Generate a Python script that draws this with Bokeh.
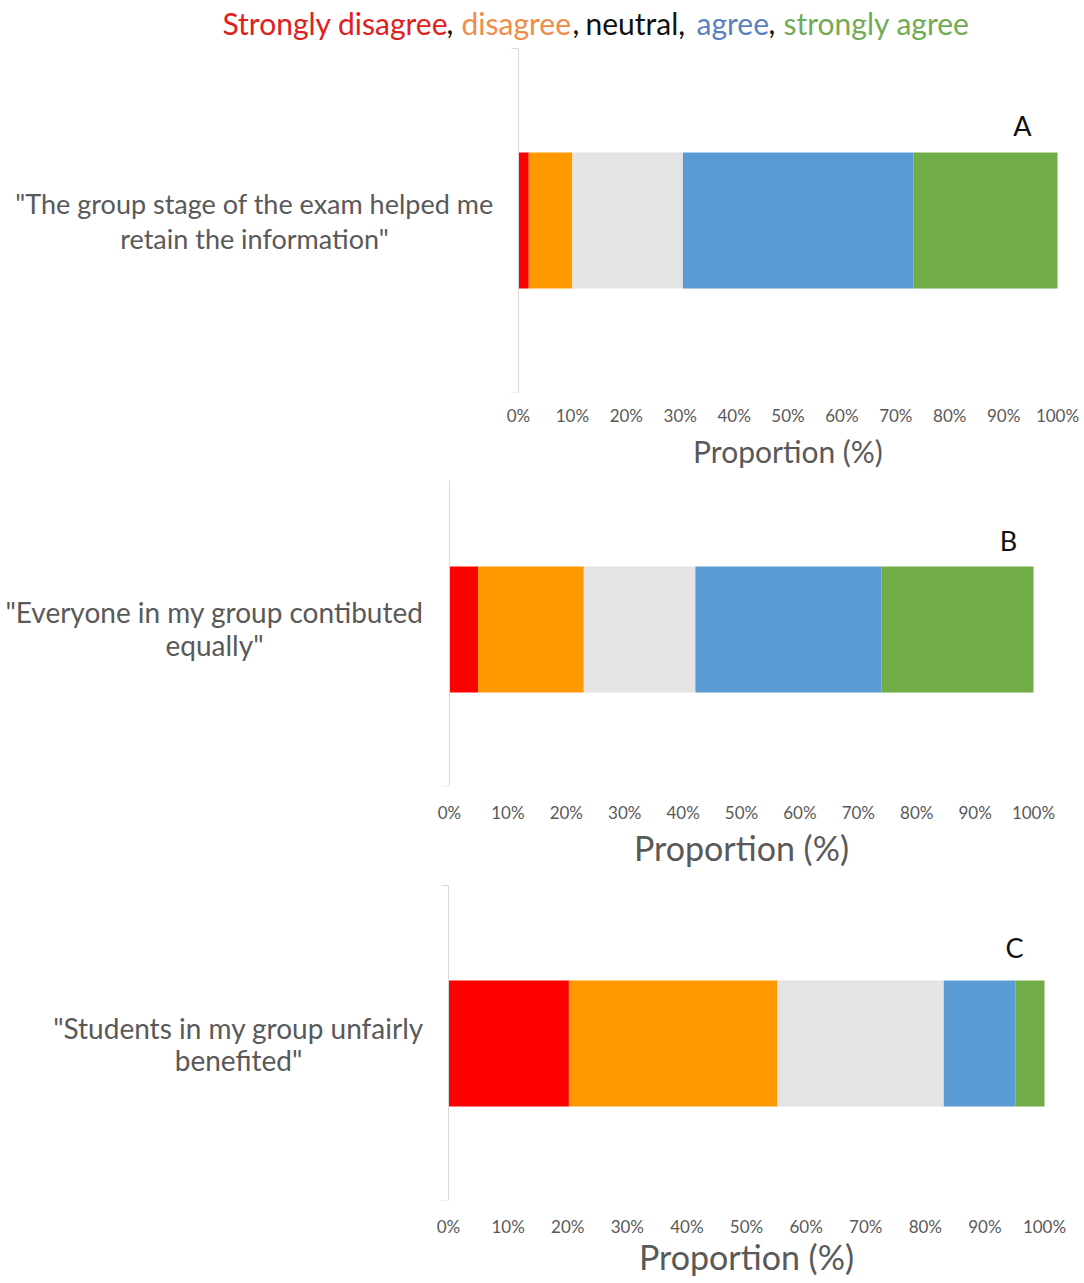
from bokeh.plotting import figure
from bokeh.models import Label, FixedTicker, PrintfTickFormatter, LinearAxis
from bokeh.layouts import column
from bokeh.embed import file_html
from bokeh.resources import INLINE

# Likert categories and their colours
responses = ["Strongly disagree", "disagree", "neutral", "agree", "strongly agree"]
bar_colors = ["#ff0000", "#ff9900", "#e4e4e4", "#5b9bd5", "#70ad47"]
header_colors = ["#e0201c", "#ef8c48", "#111111", "#5a80c0", "#72aa55"]

# Share of answers (%) per statement, in the order of `responses`
statement_a = ['"The group stage of the exam helped me', 'retain the information"']
shares_a = [1.9, 8.1, 20.5, 42.8, 26.7]

statement_b = ['"Everyone in my group contibuted', 'equally"']
shares_b = [4.9, 18.1, 19.1, 31.9, 26.0]

statement_c = ['"Students in my group unfairly', 'benefited"']
shares_c = [20.2, 35.0, 27.9, 12.0, 4.9]

x_ticks = [0, 10, 20, 30, 40, 50, 60, 70, 80, 90, 100]
x_title = "Proportion (%)"

FONT = "Lato"
GREY_TEXT = "#595959"
AXIS_GREY = "#d9d9d9"
PAGE_W = 1084


class Panel:
    """Page geometry of one panel (pixels): figure band and bar area."""

    def __init__(self, top, bottom, f_left, f_right, f_top, f_bottom):
        self.top, self.bottom = top, bottom
        self.f_left, self.f_right = f_left, f_right
        self.f_top, self.f_bottom = f_top, f_bottom
        self.sx = (f_right - f_left) / 100.0          # px per percent
        self.sy = float(f_bottom - f_top)             # px per y unit

    def x(self, px):
        return (px - self.f_left) / self.sx

    def y(self, py):
        return (self.f_bottom - py) / self.sy


def make_panel(g, shares, statement, letter, bar_px, text_cx, text_ys,
               text_size, letter_pos, tick_standoff, title_size, title_standoff,
               stubs):
    p = figure(
        width=PAGE_W, height=g.bottom - g.top,
        x_range=(g.x(0), g.x(PAGE_W)), y_range=(0, g.y(g.top)),
        output_backend="svg", toolbar_location=None,
        min_border_left=0, min_border_right=0, min_border_top=0,
        min_border_bottom=g.bottom - g.f_bottom,
    )
    p.outline_line_color = None
    p.xgrid.visible = False
    p.ygrid.visible = False
    p.yaxis.visible = False
    p.background_fill_color = "white"
    p.border_fill_color = "white"

    # stacked horizontal bar
    y_top, y_bot = g.y(bar_px[0]), g.y(bar_px[1])
    left = 0.0
    for share, color in zip(shares, bar_colors):
        p.hbar(y=(y_top + y_bot) / 2, left=left, right=left + share,
               height=y_top - y_bot, fill_color=color, line_color=None)
        left += share

    # vertical category axis line with short outer ticks
    p.segment(x0=[0], y0=[0], x1=[0], y1=[1], line_color=AXIS_GREY, line_width=1)
    stub = 7 / g.sx
    for yy in stubs:
        p.segment(x0=[-stub], y0=[yy], x1=[0], y1=[yy], line_color=AXIS_GREY, line_width=1)

    # percentage tick labels
    xa = p.xaxis[0]
    xa.ticker = FixedTicker(ticks=x_ticks)
    xa.formatter = PrintfTickFormatter(format="%d%%")
    xa.axis_line_color = None
    xa.major_tick_line_color = None
    xa.major_tick_out = 0
    xa.major_tick_in = 0
    xa.minor_tick_line_color = None
    xa.major_label_text_font = FONT
    xa.major_label_text_font_size = "17px"
    xa.major_label_text_color = GREY_TEXT
    xa.major_label_standoff = tick_standoff

    # axis title, centred under the 0-100 % span
    ta = LinearAxis(ticker=FixedTicker(ticks=[50]),
                    major_label_overrides={50: x_title})
    ta.axis_line_color = None
    ta.major_tick_line_color = None
    ta.major_tick_out = 0
    ta.major_tick_in = 0
    ta.minor_tick_line_color = None
    ta.major_label_text_font = FONT
    ta.major_label_text_font_size = title_size
    ta.major_label_text_color = GREY_TEXT
    ta.major_label_standoff = title_standoff
    p.add_layout(ta, "below")

    # statement text to the left of the bar
    for line, py in zip(statement, text_ys):
        p.add_layout(Label(x=g.x(text_cx), y=g.y(py), text=line, text_font=FONT,
                           text_font_size=text_size, text_color=GREY_TEXT,
                           text_align="center", text_baseline="middle"))

    # panel letter
    p.add_layout(Label(x=g.x(letter_pos[0]), y=g.y(letter_pos[1]), text=letter,
                       text_font=FONT, text_font_size="27px", text_color="#111111",
                       text_align="center", text_baseline="middle"))
    return p


geo_a = Panel(0, 474, 518, 1057, 48, 392)
geo_b = Panel(474, 874, 449, 1033, 480, 786)
geo_c = Panel(874, 1283, 448, 1044, 885, 1200)

pa = make_panel(geo_a, shares_a, statement_a, "A", (152, 288), 254, (203, 238),
                "27px", (1022, 125), 12, "30px", 4, (0, 1))
pb = make_panel(geo_b, shares_b, statement_b, "B", (566, 692), 214, (611, 644),
                "28px", (1008, 540), 15, "34px", 1, (0,))
pc = make_panel(geo_c, shares_c, statement_c, "C", (980, 1106), 238, (1027, 1059),
                "28px", (1014, 947), 15, "34px", -4, (0, 1))

# colour-keyed header above the first panel
header_parts = [
    ("Strongly disagree", header_colors[0], 222),
    (",", "#111111", 446),
    ("disagree", header_colors[1], 461),
    (",", "#111111", 572),
    ("neutral,", header_colors[2], 585),
    ("agree", header_colors[3], 696),
    (",", "#111111", 768),
    ("strongly agree", header_colors[4], 783),
]
for txt, col, px in header_parts:
    pa.add_layout(Label(x=geo_a.x(px), y=geo_a.y(22), text=txt, text_font=FONT,
                        text_font_size="30px", text_color=col,
                        text_align="left", text_baseline="middle"))

layout = column(pa, pb, pc, spacing=0)
open("out.html", "w").write(file_html(layout, INLINE))
